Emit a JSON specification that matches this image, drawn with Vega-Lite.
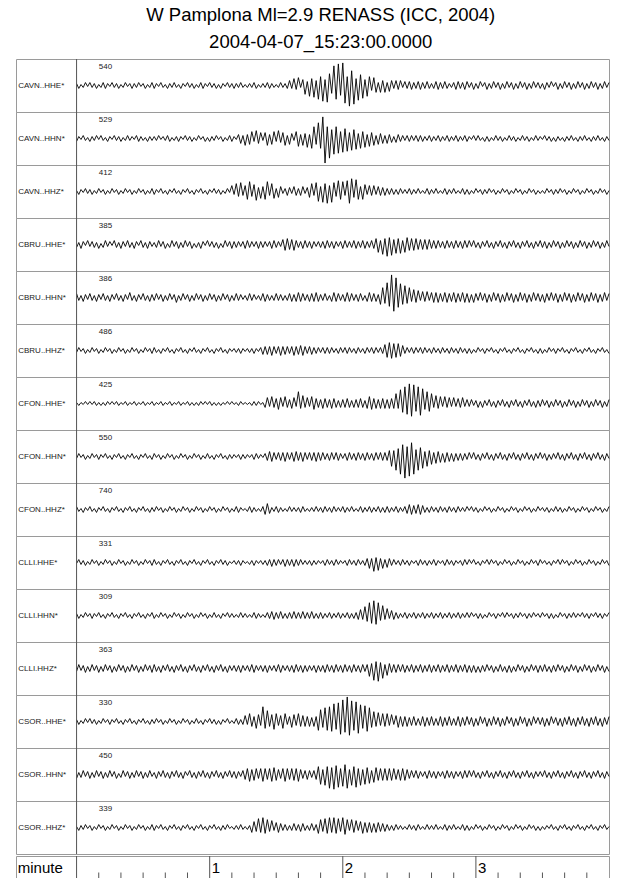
{
"$schema": "https://vega.github.io/schema/vega-lite/v6.json",
"padding": {"left": 15, "top": 5, "right": 0, "bottom": 0},
"background": "white",
"spacing": 0,
"title": {"text": ["W Pamplona Ml=2.9 RENASS (ICC, 2004)", "2004-04-07_15:23:00.0000"], "fontSize": 18.5, "font": "Liberation Sans", "fontWeight": "normal", "lineHeight": 27, "anchor": "middle", "offset": 7, "dx": 8, "color": "black"},
"config": {"view": {"stroke": "#9a9a9a", "strokeWidth": 1}, "concat": {"spacing": 0}},
"datasets": {
"names": [{"a":"CAVN..HHE*","b":"CAVN..HHN*","c":"CAVN..HHZ*","d":"CBRU..HHE*","e":"CBRU..HHN*","f":"CBRU..HHZ*","g":"CFON..HHE*","h":"CFON..HHN*","i":"CFON..HHZ*","j":"CLLI.HHE*","k":"CLLI.HHN*","l":"CLLI.HHZ*","m":"CSOR..HHE*","n":"CSOR..HHN*","o":"CSOR..HHZ*"}],
"nums": [{"a":540,"b":529,"c":412,"d":385,"e":386,"f":486,"g":425,"h":550,"i":740,"j":331,"k":309,"l":363,"m":330,"n":450,"o":339}],
"ticks": [
{"t":10,"m":0},{"t":20,"m":0},{"t":30,"m":0},{"t":40,"m":0},{"t":50,"m":0},{"t":60,"m":1,"lab":"1"},
{"t":70,"m":0},{"t":80,"m":0},{"t":90,"m":0},{"t":100,"m":0},{"t":110,"m":0},{"t":120,"m":1,"lab":"2"},
{"t":130,"m":0},{"t":140,"m":0},{"t":150,"m":0},{"t":160,"m":0},{"t":170,"m":0},{"t":180,"m":1,"lab":"3"},
{"t":190,"m":0},{"t":200,"m":0},{"t":210,"m":0},{"t":220,"m":0},{"t":230,"m":0}
],
"w": [
{"t":0,"a":2,"b":-3,"c":1,"d":-3,"e":4,"f":-2,"g":1,"h":-2,"i":3,"j":-1,"k":2,"l":-3,"m":2,"n":-4,"o":1},
{"t":1,"a":-3,"b":2,"c":-3,"d":2,"e":-3,"f":3,"g":-2,"h":3,"i":-2,"j":3,"k":-3,"l":4,"m":-3,"n":2,"o":-3},
{"t":2,"a":1,"b":-1,"c":2,"d":-4,"e":2,"f":-1,"g":1,"h":-1,"i":1,"j":-2,"k":1,"l":-2,"m":1,"n":-3,"o":2},
{"t":3,"a":-2,"b":3,"c":-1,"d":3,"e":-4,"f":2,"g":-1,"h":2,"i":-3,"j":2,"k":-2,"l":3,"m":-2,"n":4,"o":-2},
{"t":4,"a":3,"b":-2,"c":3,"d":-1,"e":3,"f":-3,"g":2,"h":-3,"i":2,"j":-3,"k":3,"l":-4,"m":3,"n":-2,"o":3},
{"t":5,"a":-1,"b":1,"c":-2,"d":4,"e":-2,"f":1,"g":-1,"h":1,"i":-1,"j":1,"k":-1,"l":2,"m":-1,"n":3,"o":-1},
{"t":6,"a":3,"b":-3,"c":2,"d":-2,"e":4,"f":-2,"g":2,"h":-2,"i":3,"j":-2,"k":2,"l":-3,"m":3,"n":-4,"o":2},
{"t":7,"a":-2,"b":2,"c":-3,"d":3,"e":-3,"f":3,"g":-1,"h":3,"i":-2,"j":3,"k":-3,"l":4,"m":-2,"n":2,"o":-3},
{"t":8,"a":2,"b":-2,"c":1,"d":-3,"e":2,"f":-1,"g":2,"h":-1,"i":1,"j":-1,"k":2,"l":-2,"m":2,"n":-3,"o":1},
{"t":9,"a":-3,"b":3,"c":-2,"d":2,"e":-4,"f":2,"g":-2,"h":2,"i":-3,"j":2,"k":-1,"l":3,"m":-3,"n":4,"o":-2},
{"t":10,"a":1,"b":-1,"c":3,"d":-4,"e":3,"f":-3,"g":1,"h":-3,"i":2,"j":-3,"k":3,"l":-4,"m":1,"n":-2,"o":3},
{"t":11,"a":-2,"b":3,"c":-1,"d":1,"e":-2,"f":1,"g":-2,"h":2,"i":-1,"j":1,"k":-2,"l":2,"m":-2,"n":3,"o":-1},
{"t":12,"a":3,"b":-2,"c":2,"d":-3,"e":4,"f":-2,"g":1,"h":-1,"i":3,"j":-2,"k":1,"l":-3,"m":3,"n":-4,"o":2},
{"t":13,"a":-3,"b":1,"c":-3,"d":4,"e":-3,"f":3,"g":-2,"h":3,"i":-2,"j":3,"k":-3,"l":4,"m":-1,"n":2,"o":-3},
{"t":14,"a":2,"b":-3,"c":1,"d":-2,"e":2,"f":-1,"g":2,"h":-2,"i":1,"j":-1,"k":2,"l":-2,"m":2,"n":-3,"o":1},
{"t":15,"a":-1,"b":2,"c":-2,"d":3,"e":-4,"f":2,"g":-1,"h":1,"i":-3,"j":2,"k":-1,"l":3,"m":-3,"n":4,"o":-2},
{"t":16,"a":3,"b":-1,"c":3,"d":-1,"e":3,"f":-3,"g":2,"h":-3,"i":2,"j":-3,"k":3,"l":-4,"m":2,"n":-2,"o":3},
{"t":17,"a":-2,"b":3,"c":-1,"d":4,"e":-2,"f":1,"g":-1,"h":2,"i":-1,"j":1,"k":-2,"l":2,"m":-1,"n":3,"o":-1},
{"t":18,"a":2,"b":-2,"c":2,"d":-3,"e":4,"f":-2,"g":2,"h":-1,"i":3,"j":-2,"k":1,"l":-3,"m":3,"n":-4,"o":2},
{"t":19,"a":-3,"b":2,"c":-3,"d":2,"e":-3,"f":3,"g":-2,"h":3,"i":-2,"j":3,"k":-3,"l":4,"m":-2,"n":1,"o":-3},
{"t":20,"a":1,"b":-3,"c":1,"d":-4,"e":2,"f":-1,"g":1,"h":-2,"i":1,"j":-1,"k":2,"l":-2,"m":1,"n":-3,"o":1},
{"t":21,"a":-2,"b":1,"c":-2,"d":3,"e":-4,"f":2,"g":-1,"h":1,"i":-3,"j":2,"k":-1,"l":3,"m":-3,"n":4,"o":-2},
{"t":22,"a":3,"b":-2,"c":3,"d":-2,"e":3,"f":-3,"g":2,"h":-3,"i":2,"j":-3,"k":3,"l":-4,"m":2,"n":-2,"o":3},
{"t":23,"a":-1,"b":3,"c":-1,"d":4,"e":-2,"f":1,"g":-2,"h":2,"i":-1,"j":1,"k":-2,"l":2,"m":-1,"n":3,"o":-1},
{"t":24,"a":2,"b":-2,"c":2,"d":-3,"e":5,"f":-2,"g":1,"h":-1,"i":3,"j":-2,"k":1,"l":-3,"m":3,"n":-4,"o":2},
{"t":25,"a":-3,"b":2,"c":-3,"d":2,"e":-3,"f":3,"g":-1,"h":3,"i":-2,"j":3,"k":-3,"l":4,"m":-2,"n":2,"o":-3},
{"t":26,"a":2,"b":-1,"c":1,"d":-4,"e":2,"f":-1,"g":2,"h":-2,"i":1,"j":-1,"k":2,"l":-2,"m":1,"n":-3,"o":1},
{"t":27,"a":-2,"b":3,"c":-2,"d":3,"e":-4,"f":2,"g":-2,"h":1,"i":-3,"j":2,"k":-1,"l":3,"m":-3,"n":4,"o":-2},
{"t":28,"a":3,"b":-3,"c":3,"d":-1,"e":3,"f":-3,"g":1,"h":-3,"i":2,"j":-3,"k":3,"l":-4,"m":2,"n":-2,"o":3},
{"t":29,"a":-1,"b":2,"c":-1,"d":4,"e":-2,"f":1,"g":-1,"h":2,"i":-1,"j":1,"k":-2,"l":2,"m":-1,"n":3,"o":-1},
{"t":30,"a":2,"b":-2,"c":2,"d":-3,"e":4,"f":-2,"g":2,"h":-1,"i":3,"j":-2,"k":1,"l":-3,"m":3,"n":-4,"o":2},
{"t":31,"a":-3,"b":1,"c":-3,"d":2,"e":-3,"f":3,"g":-2,"h":3,"i":-2,"j":3,"k":-3,"l":4,"m":-2,"n":2,"o":-3},
{"t":32,"a":1,"b":-3,"c":1,"d":-4,"e":2,"f":-1,"g":1,"h":-2,"i":1,"j":-1,"k":2,"l":-2,"m":1,"n":-3,"o":1},
{"t":33,"a":-2,"b":2,"c":-2,"d":3,"e":-4,"f":2,"g":-1,"h":1,"i":-3,"j":2,"k":-1,"l":3,"m":-3,"n":4,"o":-2},
{"t":34,"a":3,"b":-2,"c":3,"d":-2,"e":3,"f":-3,"g":2,"h":-3,"i":2,"j":-3,"k":3,"l":-4,"m":2,"n":-2,"o":3},
{"t":35,"a":-3,"b":2,"c":-3,"d":2,"e":-3,"f":3,"g":-2,"h":3,"i":-2,"j":3,"k":-3,"l":4,"m":-2,"n":2,"o":-3},
{"t":36,"a":2,"b":-2,"c":2,"d":-3,"e":4,"f":-2,"g":1,"h":-1,"i":3,"j":-2,"k":1,"l":-3,"m":3,"n":-4,"o":2},
{"t":37,"a":-1,"b":3,"c":-1,"d":4,"e":-2,"f":1,"g":-1,"h":2,"i":-1,"j":1,"k":-2,"l":2,"m":-1,"n":3,"o":-1},
{"t":38,"a":3,"b":-1,"c":3,"d":-2,"e":3,"f":-3,"g":2,"h":-3,"i":2,"j":-3,"k":3,"l":-4,"m":2,"n":-2,"o":3},
{"t":39,"a":-2,"b":2,"c":-2,"d":3,"e":-4,"f":2,"g":-2,"h":1,"i":-3,"j":2,"k":-1,"l":3,"m":-3,"n":4,"o":-2},
{"t":40,"a":1,"b":-2,"c":1,"d":-4,"e":2,"f":-1,"g":1,"h":-2,"i":1,"j":-1,"k":2,"l":-2,"m":1,"n":-3,"o":1},
{"t":41,"a":-3,"b":3,"c":-3,"d":1,"e":-3,"f":3,"g":-1,"h":3,"i":-2,"j":3,"k":-3,"l":4,"m":-2,"n":2,"o":-3},
{"t":42,"a":2,"b":-3,"c":2,"d":-3,"e":4,"f":-2,"g":2,"h":-1,"i":3,"j":-2,"k":1,"l":-3,"m":3,"n":-4,"o":2},
{"t":43,"a":-2,"b":1,"c":-1,"d":4,"e":-2,"f":1,"g":-2,"h":2,"i":-1,"j":1,"k":-2,"l":2,"m":-1,"n":3,"o":-1},
{"t":44,"a":3,"b":-2,"c":3,"d":-2,"e":3,"f":-3,"g":1,"h":-3,"i":2,"j":-3,"k":3,"l":-4,"m":2,"n":-2,"o":3},
{"t":45,"a":-2,"b":2,"c":-2,"d":3,"e":-5,"f":2,"g":-1,"h":1,"i":-3,"j":2,"k":-1,"l":3,"m":-3,"n":4,"o":-2},
{"t":46,"a":1,"b":-3,"c":1,"d":-4,"e":2,"f":-1,"g":2,"h":-2,"i":1,"j":-1,"k":2,"l":-2,"m":1,"n":-3,"o":1},
{"t":47,"a":-3,"b":2,"c":-3,"d":2,"e":-3,"f":3,"g":-2,"h":3,"i":-2,"j":3,"k":-3,"l":4,"m":-2,"n":2,"o":-3},
{"t":48,"a":2,"b":-1,"c":2,"d":-3,"e":4,"f":-2,"g":1,"h":-1,"i":3,"j":-2,"k":1,"l":-3,"m":3,"n":-4,"o":2},
{"t":49,"a":-1,"b":3,"c":-1,"d":4,"e":-2,"f":1,"g":-1,"h":2,"i":-1,"j":1,"k":-2,"l":2,"m":-1,"n":3,"o":-1},
{"t":50,"a":3,"b":-2,"c":3,"d":-2,"e":3,"f":-3,"g":2,"h":-3,"i":2,"j":-3,"k":3,"l":-4,"m":2,"n":-1,"o":3},
{"t":51,"a":-2,"b":2,"c":-2,"d":3,"e":-4,"f":2,"g":-2,"h":1,"i":-3,"j":2,"k":-1,"l":3,"m":-3,"n":4,"o":-2},
{"t":52,"a":2,"b":-3,"c":1,"d":-4,"e":2,"f":-1,"g":1,"h":-2,"i":1,"j":-1,"k":2,"l":-2,"m":1,"n":-3,"o":1},
{"t":53,"a":-3,"b":1,"c":-3,"d":1,"e":-3,"f":3,"g":-2,"h":3,"i":-2,"j":3,"k":-3,"l":4,"m":-2,"n":2,"o":-3},
{"t":54,"a":1,"b":-2,"c":2,"d":-3,"e":4,"f":-2,"g":1,"h":-1,"i":3,"j":-2,"k":1,"l":-3,"m":3,"n":-4,"o":2},
{"t":55,"a":-2,"b":3,"c":-1,"d":2,"e":-2,"f":1,"g":-2,"h":2,"i":-1,"j":1,"k":-2,"l":2,"m":-2,"n":3,"o":-1},
{"t":56,"a":3,"b":-1,"c":3,"d":-4,"e":3,"f":-3,"g":2,"h":-3,"i":2,"j":-3,"k":3,"l":-4,"m":1,"n":-2,"o":3},
{"t":57,"a":-3,"b":2,"c":-2,"d":3,"e":-4,"f":2,"g":-1,"h":1,"i":-3,"j":2,"k":-1,"l":3,"m":-3,"n":4,"o":-2},
{"t":58,"a":2,"b":-3,"c":1,"d":-1,"e":2,"f":-1,"g":2,"h":-2,"i":1,"j":-1,"k":2,"l":-2,"m":2,"n":-3,"o":1},
{"t":59,"a":-1,"b":1,"c":-3,"d":4,"e":-3,"f":3,"g":-1,"h":3,"i":-2,"j":3,"k":-3,"l":4,"m":-1,"n":2,"o":-3},
{"t":60,"a":3,"b":-3,"c":2,"d":-2,"e":4,"f":-2,"g":2,"h":-2,"i":3,"j":-2,"k":1,"l":-3,"m":3,"n":-4,"o":2},
{"t":61,"a":-2,"b":2,"c":-1,"d":3,"e":-2,"f":1,"g":-2,"h":1,"i":-1,"j":1,"k":-2,"l":2,"m":-2,"n":3,"o":-1},
{"t":62,"a":2,"b":-2,"c":3,"d":-3,"e":3,"f":-3,"g":1,"h":-3,"i":2,"j":-3,"k":3,"l":-4,"m":2,"n":-2,"o":3},
{"t":63,"a":-3,"b":3,"c":-2,"d":2,"e":-4,"f":2,"g":-2,"h":2,"i":-3,"j":2,"k":-2,"l":3,"m":-3,"n":4,"o":-2},
{"t":64,"a":1,"b":-1,"c":2,"d":-4,"e":2,"f":-1,"g":1,"h":-1,"i":1,"j":-1,"k":1,"l":-2,"m":1,"n":-3,"o":1},
{"t":65,"a":-3,"b":2,"c":-3,"d":1,"e":-3,"f":3,"g":-2,"h":3,"i":-2,"j":3,"k":-3,"l":4,"m":-3,"n":2,"o":-3},
{"t":66,"a":2,"b":-3,"c":1,"d":-3,"e":4,"f":-2,"g":1,"h":-2,"i":3,"j":-2,"k":2,"l":-3,"m":2,"n":-4,"o":2},
{"t":67,"a":-1,"b":1,"c":-2,"d":4,"e":-2,"f":1,"g":-1,"h":1,"i":-1,"j":2,"k":-1,"l":2,"m":-1,"n":3,"o":-2},
{"t":68,"a":3,"b":-2,"c":3,"d":-2,"e":3,"f":-3,"g":2,"h":-3,"i":2,"j":-3,"k":3,"l":-4,"m":3,"n":-2,"o":3},
{"t":69,"a":-2,"b":3,"c":-1,"d":3,"e":-4,"f":2,"g":-1,"h":2,"i":-3,"j":1,"k":-2,"l":3,"m":-2,"n":4,"o":-1},
{"t":70,"a":2,"b":-3,"c":6,"d":-4,"e":2,"f":-1,"g":2,"h":-2,"i":1,"j":-1,"k":2,"l":-2,"m":1,"n":-3,"o":1},
{"t":71,"a":-3,"b":2,"c":-3,"d":3,"e":-3,"f":2,"g":-1,"h":2,"i":-2,"j":2,"k":-2,"l":3,"m":-2,"n":3,"o":-2},
{"t":72,"a":2,"b":-1,"c":8,"d":-3,"e":4,"f":-2,"g":1,"h":-1,"i":3,"j":-2,"k":1,"l":-3,"m":3,"n":-4,"o":2},
{"t":73,"a":-2,"b":4,"c":-5,"d":3,"e":-3,"f":2,"g":-2,"h":2,"i":-3,"j":2,"k":-2,"l":3,"m":-3,"n":3,"o":-2},
{"t":74,"a":3,"b":-5,"c":9,"d":-2,"e":3,"f":-3,"g":2,"h":-3,"i":2,"j":-3,"k":3,"l":-4,"m":2,"n":-2,"o":3},
{"t":75,"a":-2,"b":3,"c":-4,"d":3,"e":-2,"f":2,"g":-1,"h":2,"i":-1,"j":2,"k":-2,"l":3,"m":-3,"n":4,"o":-2},
{"t":76,"a":1,"b":-7,"c":6,"d":-4,"e":2,"f":-1,"g":1,"h":-2,"i":1,"j":-1,"k":2,"l":-2,"m":6,"n":-5,"o":1},
{"t":77,"a":-2,"b":4,"c":-8,"d":4,"e":-3,"f":2,"g":-1,"h":2,"i":-2,"j":1,"k":-2,"l":3,"m":-3,"n":6,"o":-2},
{"t":78,"a":2,"b":-6,"c":10,"d":-3,"e":4,"f":-2,"g":1,"h":-1,"i":3,"j":-2,"k":1,"l":-3,"m":8,"n":-7,"o":2},
{"t":79,"a":-2,"b":7,"c":-5,"d":3,"e":-3,"f":2,"g":-2,"h":2,"i":-3,"j":2,"k":-2,"l":4,"m":-5,"n":5,"o":-5},
{"t":80,"a":3,"b":-3,"c":7,"d":-2,"e":3,"f":-3,"g":2,"h":-3,"i":2,"j":-3,"k":3,"l":-4,"m":5,"n":-6,"o":6},
{"t":81,"a":-3,"b":8,"c":-9,"d":3,"e":-2,"f":2,"g":-2,"h":3,"i":-2,"j":2,"k":-3,"l":3,"m":-7,"n":6,"o":-4},
{"t":82,"a":1,"b":-5,"c":4,"d":-4,"e":2,"f":-1,"g":2,"h":-2,"i":1,"j":-1,"k":2,"l":-2,"m":7,"n":-4,"o":9},
{"t":83,"a":-2,"b":6,"c":-7,"d":3,"e":-3,"f":3,"g":-1,"h":2,"i":-2,"j":2,"k":-2,"l":3,"m":-4,"n":6,"o":-5},
{"t":84,"a":2,"b":-2,"c":5,"d":-3,"e":4,"f":-4,"g":1,"h":-1,"i":3,"j":-2,"k":1,"l":-3,"m":15,"n":-7,"o":10},
{"t":85,"a":-2,"b":6,"c":-8,"d":3,"e":-4,"f":4,"g":-4,"h":3,"i":-5,"j":2,"k":-2,"l":3,"m":-7,"n":6,"o":-6},
{"t":86,"a":3,"b":-7,"c":10,"d":-2,"e":3,"f":-4,"g":6,"h":-4,"i":6,"j":-3,"k":3,"l":-4,"m":11,"n":-5,"o":8},
{"t":87,"a":-3,"b":4,"c":-4,"d":3,"e":-3,"f":4,"g":-3,"h":5,"i":-4,"j":3,"k":-3,"l":3,"m":-5,"n":6,"o":-4},
{"t":88,"a":2,"b":-6,"c":8,"d":-4,"e":2,"f":-5,"g":7,"h":-5,"i":2,"j":-4,"k":4,"l":-2,"m":7,"n":-7,"o":7},
{"t":89,"a":-2,"b":7,"c":-7,"d":4,"e":-3,"f":4,"g":-4,"h":4,"i":-2,"j":3,"k":-4,"l":3,"m":-8,"n":7,"o":-3},
{"t":90,"a":1,"b":-3,"c":3,"d":-3,"e":4,"f":-3,"g":5,"h":-3,"i":3,"j":-3,"k":3,"l":-3,"m":8,"n":-6,"o":5},
{"t":91,"a":-2,"b":8,"c":-6,"d":3,"e":-3,"f":4,"g":-6,"h":4,"i":-3,"j":3,"k":-3,"l":4,"m":-4,"n":5,"o":-5},
{"t":92,"a":3,"b":-4,"c":5,"d":-2,"e":3,"f":-5,"g":6,"h":-4,"i":2,"j":-2,"k":4,"l":-4,"m":6,"n":-4,"o":4},
{"t":93,"a":-2,"b":6,"c":-2,"d":5,"e":-3,"f":4,"g":-3,"h":4,"i":-2,"j":3,"k":-3,"l":3,"m":-7,"n":6,"o":-3},
{"t":94,"a":2,"b":-7,"c":3,"d":-6,"e":2,"f":-4,"g":7,"h":-5,"i":1,"j":-4,"k":2,"l":-2,"m":8,"n":-7,"o":3},
{"t":95,"a":-3,"b":3,"c":-4,"d":6,"e":-3,"f":4,"g":-4,"h":4,"i":-2,"j":3,"k":-3,"l":3,"m":-3,"n":6,"o":-3},
{"t":96,"a":5,"b":-6,"c":4,"d":-5,"e":4,"f":-3,"g":4,"h":-3,"i":3,"j":-3,"k":3,"l":-3,"m":5,"n":-5,"o":2},
{"t":97,"a":-3,"b":5,"c":-2,"d":5,"e":-4,"f":4,"g":-5,"h":4,"i":-2,"j":3,"k":-3,"l":3,"m":-6,"n":6,"o":-3},
{"t":98,"a":7,"b":-2,"c":5,"d":-6,"e":3,"f":-5,"g":6,"h":-5,"i":2,"j":-4,"k":4,"l":-4,"m":7,"n":-6,"o":4},
{"t":99,"a":-4,"b":7,"c":-4,"d":4,"e":-4,"f":4,"g":-3,"h":5,"i":-2,"j":3,"k":-3,"l":4,"m":-4,"n":6,"o":-3},
{"t":100,"a":8,"b":-8,"c":3,"d":-3,"e":5,"f":-4,"g":12,"h":-4,"i":2,"j":-3,"k":3,"l":-3,"m":8,"n":-7,"o":3},
{"t":101,"a":-2,"b":4,"c":-4,"d":3,"e":-4,"f":5,"g":-5,"h":4,"i":-3,"j":3,"k":-3,"l":3,"m":-5,"n":5,"o":-4},
{"t":102,"a":6,"b":-7,"c":5,"d":-4,"e":4,"f":-5,"g":8,"h":-5,"i":3,"j":-2,"k":4,"l":-4,"m":6,"n":-4,"o":4},
{"t":103,"a":-9,"b":5,"c":-2,"d":4,"e":-3,"f":4,"g":-4,"h":4,"i":-2,"j":2,"k":-3,"l":3,"m":-5,"n":4,"o":-3},
{"t":104,"a":4,"b":-9,"c":4,"d":-3,"e":3,"f":-3,"g":6,"h":-3,"i":1,"j":-2,"k":3,"l":-3,"m":5,"n":-5,"o":2},
{"t":105,"a":-11,"b":4,"c":-6,"d":3,"e":-4,"f":4,"g":-3,"h":4,"i":-2,"j":2,"k":-3,"l":3,"m":-5,"n":4,"o":-3},
{"t":106,"a":7,"b":-10,"c":8,"d":-4,"e":4,"f":-4,"g":7,"h":-4,"i":2,"j":-3,"k":4,"l":-2,"m":4,"n":-3,"o":4},
{"t":107,"a":-12,"b":12,"c":-4,"d":3,"e":-4,"f":3,"g":-6,"h":4,"i":-2,"j":2,"k":-3,"l":3,"m":-5,"n":4,"o":-3},
{"t":108,"a":5,"b":-6,"c":9,"d":-2,"e":5,"f":-3,"g":5,"h":-5,"i":3,"j":-2,"k":2,"l":-4,"m":5,"n":-5,"o":3},
{"t":109,"a":-14,"b":16,"c":-10,"d":3,"e":-4,"f":3,"g":-4,"h":4,"i":-2,"j":2,"k":-3,"l":3,"m":-9,"n":8,"o":-6},
{"t":110,"a":9,"b":-10,"c":5,"d":-3,"e":3,"f":-2,"g":4,"h":-4,"i":2,"j":-1,"k":3,"l":-3,"m":12,"n":-10,"o":8},
{"t":111,"a":-16,"b":22,"c":-11,"d":3,"e":-3,"f":3,"g":-5,"h":4,"i":-3,"j":2,"k":-3,"l":3,"m":-6,"n":5,"o":-4},
{"t":112,"a":6,"b":-25,"c":8,"d":-4,"e":4,"f":-3,"g":5,"h":-3,"i":3,"j":-3,"k":2,"l":-4,"m":14,"n":-11,"o":9},
{"t":113,"a":-17,"b":12,"c":-12,"d":4,"e":-3,"f":3,"g":-4,"h":3,"i":-2,"j":3,"k":-2,"l":4,"m":-9,"n":8,"o":-6},
{"t":114,"a":12,"b":-20,"c":6,"d":-3,"e":2,"f":-3,"g":4,"h":-4,"i":2,"j":-2,"k":3,"l":-3,"m":15,"n":-14,"o":10},
{"t":115,"a":-8,"b":9,"c":-11,"d":3,"e":-4,"f":3,"g":-5,"h":4,"i":-3,"j":2,"k":-3,"l":3,"m":-10,"n":7,"o":-5},
{"t":116,"a":20,"b":-16,"c":9,"d":-4,"e":5,"f":-2,"g":5,"h":-3,"i":3,"j":-3,"k":2,"l":-4,"m":18,"n":-15,"o":10},
{"t":117,"a":-14,"b":12,"c":-5,"d":3,"e":-4,"f":2,"g":-4,"h":4,"i":-2,"j":3,"k":-2,"l":4,"m":-8,"n":9,"o":-6},
{"t":118,"a":22,"b":-15,"c":11,"d":-2,"e":4,"f":-3,"g":3,"h":-4,"i":2,"j":-2,"k":3,"l":-3,"m":19,"n":-13,"o":9},
{"t":119,"a":-10,"b":7,"c":-8,"d":3,"e":-3,"f":3,"g":-4,"h":3,"i":-2,"j":2,"k":-3,"l":3,"m":-13,"n":6,"o":-4},
{"t":120,"a":23,"b":-14,"c":10,"d":-4,"e":3,"f":-2,"g":4,"h":-2,"i":3,"j":-1,"k":2,"l":-4,"m":22,"n":-12,"o":10},
{"t":121,"a":-18,"b":10,"c":-4,"d":4,"e":-4,"f":3,"g":-4,"h":3,"i":-3,"j":2,"k":-2,"l":4,"m":-11,"n":10,"o":-7},
{"t":122,"a":9,"b":-13,"c":11,"d":-3,"e":5,"f":-3,"g":5,"h":-4,"i":2,"j":-3,"k":3,"l":-3,"m":25,"n":-14,"o":8},
{"t":123,"a":-21,"b":6,"c":-12,"d":3,"e":-4,"f":3,"g":-4,"h":4,"i":-2,"j":3,"k":-3,"l":3,"m":-14,"n":5,"o":-3},
{"t":124,"a":15,"b":-12,"c":13,"d":-3,"e":4,"f":-2,"g":3,"h":-3,"i":3,"j":-2,"k":2,"l":-4,"m":21,"n":-11,"o":8},
{"t":125,"a":-19,"b":9,"c":-6,"d":4,"e":-3,"f":2,"g":-4,"h":3,"i":-2,"j":2,"k":-3,"l":4,"m":-9,"n":8,"o":-5},
{"t":126,"a":7,"b":-11,"c":12,"d":-4,"e":3,"f":-3,"g":4,"h":-4,"i":1,"j":-3,"k":3,"l":-3,"m":20,"n":-13,"o":7},
{"t":127,"a":-15,"b":5,"c":-8,"d":3,"e":-4,"f":3,"g":-4,"h":4,"i":-2,"j":3,"k":-4,"l":3,"m":-12,"n":6,"o":-3},
{"t":128,"a":11,"b":-10,"c":5,"d":-3,"e":4,"f":-2,"g":5,"h":-3,"i":3,"j":-2,"k":6,"l":-4,"m":17,"n":-11,"o":6},
{"t":129,"a":-13,"b":7,"c":-8,"d":4,"e":-3,"f":2,"g":-4,"h":3,"i":-3,"j":2,"k":-4,"l":4,"m":-7,"n":5,"o":-6},
{"t":130,"a":6,"b":-9,"c":7,"d":-4,"e":2,"f":-3,"g":3,"h":-4,"i":2,"j":-3,"k":9,"l":-3,"m":16,"n":-10,"o":5},
{"t":131,"a":-11,"b":4,"c":-3,"d":3,"e":-4,"f":3,"g":-5,"h":4,"i":-2,"j":4,"k":-6,"l":4,"m":-10,"n":7,"o":-5},
{"t":132,"a":9,"b":-8,"c":6,"d":-3,"e":5,"f":-2,"g":7,"h":-3,"i":3,"j":-6,"k":13,"l":-8,"m":14,"n":-9,"o":5},
{"t":133,"a":-5,"b":6,"c":-4,"d":4,"e":-4,"f":3,"g":-6,"h":3,"i":-3,"j":4,"k":-8,"l":5,"m":-6,"n":4,"o":-5},
{"t":134,"a":8,"b":-7,"c":6,"d":-4,"e":4,"f":-3,"g":5,"h":-4,"i":2,"j":-9,"k":15,"l":-12,"m":10,"n":-8,"o":4},
{"t":135,"a":-7,"b":3,"c":-3,"d":6,"e":-4,"f":3,"g":-5,"h":4,"i":-2,"j":5,"k":-9,"l":7,"m":-5,"n":7,"o":-5},
{"t":136,"a":3,"b":-6,"c":5,"d":-8,"e":3,"f":-2,"g":4,"h":-3,"i":3,"j":-8,"k":13,"l":-13,"m":9,"n":-6,"o":5},
{"t":137,"a":-7,"b":5,"c":-4,"d":4,"e":-7,"f":3,"g":-5,"h":4,"i":-3,"j":4,"k":-5,"l":6,"m":-4,"n":6,"o":-4},
{"t":138,"a":5,"b":-5,"c":4,"d":-10,"e":10,"f":-3,"g":5,"h":-4,"i":2,"j":-6,"k":10,"l":-10,"m":8,"n":-6,"o":4},
{"t":139,"a":-7,"b":3,"c":-4,"d":6,"e":-6,"f":6,"g":-5,"h":4,"i":-3,"j":3,"k":-4,"l":4,"m":-5,"n":6,"o":-4},
{"t":140,"a":3,"b":-5,"c":3,"d":-12,"e":15,"f":-7,"g":4,"h":-4,"i":3,"j":-5,"k":7,"l":-7,"m":8,"n":-6,"o":3},
{"t":141,"a":-6,"b":4,"c":-3,"d":7,"e":-9,"f":8,"g":-5,"h":6,"i":-3,"j":4,"k":-3,"l":5,"m":-4,"n":6,"o":-3},
{"t":142,"a":5,"b":-4,"c":3,"d":-11,"e":23,"f":-8,"g":5,"h":-10,"i":2,"j":-3,"k":5,"l":-4,"m":7,"n":-6,"o":2},
{"t":143,"a":-3,"b":2,"c":-3,"d":5,"e":-14,"f":7,"g":-5,"h":6,"i":-2,"j":3,"k":-4,"l":4,"m":-3,"n":6,"o":-3},
{"t":144,"a":5,"b":-4,"c":2,"d":-9,"e":20,"f":-7,"g":10,"h":-14,"i":3,"j":-2,"k":3,"l":-4,"m":6,"n":-5,"o":3},
{"t":145,"a":-4,"b":4,"c":-3,"d":6,"e":-10,"f":7,"g":-5,"h":8,"i":-3,"j":2,"k":-3,"l":4,"m":-6,"n":5,"o":-2},
{"t":146,"a":5,"b":-3,"c":3,"d":-9,"e":14,"f":-6,"g":14,"h":-18,"i":2,"j":-3,"k":2,"l":-3,"m":5,"n":-6,"o":2},
{"t":147,"a":-2,"b":3,"c":-2,"d":4,"e":-7,"f":5,"g":-9,"h":12,"i":-2,"j":3,"k":-2,"l":4,"m":-5,"n":6,"o":-2},
{"t":148,"a":4,"b":-2,"c":2,"d":-8,"e":12,"f":-3,"g":17,"h":-22,"i":3,"j":-2,"k":3,"l":-4,"m":5,"n":-6,"o":1},
{"t":149,"a":-3,"b":3,"c":-2,"d":7,"e":-6,"f":3,"g":-11,"h":10,"i":-4,"j":2,"k":-3,"l":3,"m":-5,"n":5,"o":-2},
{"t":150,"a":4,"b":-3,"c":3,"d":-6,"e":10,"f":-2,"g":20,"h":-20,"i":5,"j":-3,"k":2,"l":-3,"m":4,"n":-4,"o":3},
{"t":151,"a":-4,"b":3,"c":-3,"d":6,"e":-4,"f":3,"g":-13,"h":14,"i":-5,"j":2,"k":-2,"l":4,"m":-4,"n":4,"o":-2},
{"t":152,"a":3,"b":-2,"c":2,"d":-6,"e":8,"f":-3,"g":19,"h":-18,"i":4,"j":-1,"k":3,"l":-4,"m":5,"n":-3,"o":2},
{"t":153,"a":-3,"b":3,"c":-2,"d":6,"e":-5,"f":3,"g":-8,"h":7,"i":-4,"j":2,"k":-3,"l":3,"m":-4,"n":4,"o":-3},
{"t":154,"a":4,"b":-3,"c":3,"d":-5,"e":7,"f":-2,"g":17,"h":-14,"i":5,"j":-3,"k":2,"l":-3,"m":3,"n":-4,"o":3},
{"t":155,"a":-4,"b":3,"c":-2,"d":5,"e":-3,"f":3,"g":-12,"h":9,"i":-5,"j":3,"k":-2,"l":4,"m":-4,"n":3,"o":-2},
{"t":156,"a":3,"b":-3,"c":1,"d":-5,"e":6,"f":-3,"g":15,"h":-12,"i":4,"j":-2,"k":3,"l":-4,"m":5,"n":-2,"o":1},
{"t":157,"a":-3,"b":2,"c":-2,"d":5,"e":-4,"f":3,"g":-6,"h":5,"i":-3,"j":2,"k":-3,"l":3,"m":-5,"n":3,"o":-2},
{"t":158,"a":4,"b":-2,"c":3,"d":-5,"e":6,"f":-2,"g":12,"h":-10,"i":2,"j":-3,"k":2,"l":-3,"m":4,"n":-4,"o":3},
{"t":159,"a":-3,"b":3,"c":-3,"d":5,"e":-3,"f":2,"g":-8,"h":6,"i":-3,"j":2,"k":-2,"l":4,"m":-4,"n":4,"o":-2},
{"t":160,"a":2,"b":-3,"c":2,"d":-4,"e":5,"f":-3,"g":10,"h":-8,"i":3,"j":-2,"k":3,"l":-4,"m":5,"n":-3,"o":2},
{"t":161,"a":-3,"b":2,"c":-2,"d":4,"e":-5,"f":3,"g":-4,"h":4,"i":-2,"j":3,"k":-3,"l":3,"m":-4,"n":3,"o":-2},
{"t":162,"a":4,"b":-2,"c":3,"d":-4,"e":5,"f":-2,"g":8,"h":-7,"i":2,"j":-3,"k":2,"l":-3,"m":3,"n":-4,"o":3},
{"t":163,"a":-4,"b":3,"c":-2,"d":4,"e":-5,"f":2,"g":-5,"h":5,"i":-3,"j":2,"k":-2,"l":4,"m":-4,"n":3,"o":-2},
{"t":164,"a":3,"b":-3,"c":1,"d":-3,"e":4,"f":-3,"g":7,"h":-6,"i":3,"j":-1,"k":3,"l":-4,"m":5,"n":-2,"o":1},
{"t":165,"a":-3,"b":2,"c":-2,"d":3,"e":-4,"f":3,"g":-3,"h":3,"i":-2,"j":2,"k":-3,"l":3,"m":-5,"n":3,"o":-2},
{"t":166,"a":4,"b":-2,"c":3,"d":-4,"e":5,"f":-2,"g":7,"h":-6,"i":2,"j":-3,"k":2,"l":-3,"m":4,"n":-4,"o":3},
{"t":167,"a":-3,"b":3,"c":-3,"d":4,"e":-5,"f":2,"g":-4,"h":4,"i":-3,"j":3,"k":-2,"l":4,"m":-4,"n":4,"o":-3},
{"t":168,"a":2,"b":-3,"c":2,"d":-3,"e":4,"f":-3,"g":6,"h":-5,"i":3,"j":-2,"k":3,"l":-4,"m":5,"n":-3,"o":2},
{"t":169,"a":-2,"b":2,"c":-2,"d":3,"e":-4,"f":3,"g":-3,"h":3,"i":-2,"j":2,"k":-3,"l":3,"m":-4,"n":3,"o":-2},
{"t":170,"a":3,"b":-2,"c":3,"d":-4,"e":5,"f":-2,"g":6,"h":-5,"i":2,"j":-3,"k":2,"l":-3,"m":3,"n":-4,"o":3},
{"t":171,"a":-4,"b":3,"c":-2,"d":4,"e":-5,"f":2,"g":-3,"h":3,"i":-3,"j":2,"k":-2,"l":4,"m":-4,"n":3,"o":-2},
{"t":172,"a":4,"b":-3,"c":1,"d":-3,"e":4,"f":-3,"g":5,"h":-4,"i":3,"j":-1,"k":3,"l":-4,"m":5,"n":-2,"o":1},
{"t":173,"a":-3,"b":2,"c":-2,"d":3,"e":-4,"f":3,"g":-4,"h":3,"i":-2,"j":2,"k":-3,"l":3,"m":-5,"n":3,"o":-2},
{"t":174,"a":3,"b":-2,"c":3,"d":-4,"e":5,"f":-2,"g":6,"h":-4,"i":2,"j":-3,"k":2,"l":-3,"m":4,"n":-4,"o":3},
{"t":175,"a":-4,"b":3,"c":-3,"d":4,"e":-5,"f":2,"g":-3,"h":3,"i":-2,"j":3,"k":-2,"l":4,"m":-4,"n":4,"o":-3},
{"t":176,"a":4,"b":-3,"c":2,"d":-3,"e":4,"f":-3,"g":4,"h":-3,"i":3,"j":-2,"k":3,"l":-4,"m":5,"n":-3,"o":2},
{"t":177,"a":-2,"b":2,"c":-3,"d":4,"e":-5,"f":2,"g":-3,"h":4,"i":-1,"j":3,"k":-2,"l":3,"m":-3,"n":4,"o":-3},
{"t":178,"a":3,"b":-1,"c":1,"d":-2,"e":3,"f":-3,"g":4,"h":-2,"i":3,"j":-1,"k":3,"l":-4,"m":4,"n":-2,"o":1},
{"t":179,"a":-4,"b":3,"c":-2,"d":4,"e":-5,"f":1,"g":-2,"h":4,"i":-2,"j":3,"k":-1,"l":3,"m":-5,"n":4,"o":-2},
{"t":180,"a":2,"b":-2,"c":3,"d":-3,"e":4,"f":-2,"g":3,"h":-3,"i":2,"j":-2,"k":2,"l":-4,"m":3,"n":-3,"o":3},
{"t":181,"a":-3,"b":3,"c":-1,"d":2,"e":-3,"f":3,"g":-4,"h":2,"i":-3,"j":1,"k":-3,"l":2,"m":-4,"n":2,"o":-1},
{"t":182,"a":4,"b":-2,"c":2,"d":-4,"e":5,"f":-1,"g":2,"h":-4,"i":1,"j":-3,"k":2,"l":-4,"m":5,"n":-4,"o":2},
{"t":183,"a":-1,"b":1,"c":-3,"d":3,"e":-3,"f":2,"g":-4,"h":3,"i":-2,"j":2,"k":-3,"l":3,"m":-2,"n":3,"o":-3},
{"t":184,"a":3,"b":-3,"c":2,"d":-2,"e":4,"f":-3,"g":3,"h":-2,"i":3,"j":-1,"k":1,"l":-3,"m":4,"n":-2,"o":1},
{"t":185,"a":-4,"b":2,"c":-2,"d":4,"e":-5,"f":2,"g":-2,"h":4,"i":-1,"j":3,"k":-2,"l":4,"m":-5,"n":4,"o":-2},
{"t":186,"a":2,"b":-3,"c":3,"d":-3,"e":3,"f":-1,"g":4,"h":-3,"i":2,"j":-2,"k":3,"l":-2,"m":3,"n":-3,"o":3},
{"t":187,"a":-3,"b":1,"c":-1,"d":2,"e":-4,"f":3,"g":-3,"h":2,"i":-3,"j":3,"k":-1,"l":3,"m":-4,"n":2,"o":-1},
{"t":188,"a":4,"b":-2,"c":2,"d":-4,"e":5,"f":-2,"g":2,"h":-4,"i":1,"j":-1,"k":2,"l":-4,"m":5,"n":-4,"o":2},
{"t":189,"a":-2,"b":3,"c":-3,"d":3,"e":-3,"f":1,"g":-4,"h":3,"i":-2,"j":2,"k":-3,"l":2,"m":-3,"n":3,"o":-3},
{"t":190,"a":3,"b":-2,"c":1,"d":-2,"e":4,"f":-3,"g":3,"h":-2,"i":3,"j":-3,"k":2,"l":-3,"m":4,"n":-2,"o":1},
{"t":191,"a":-4,"b":2,"c":-2,"d":4,"e":-5,"f":2,"g":-2,"h":4,"i":-1,"j":1,"k":-1,"l":4,"m":-5,"n":4,"o":-2},
{"t":192,"a":2,"b":-3,"c":3,"d":-3,"e":3,"f":-1,"g":4,"h":-3,"i":2,"j":-2,"k":3,"l":-3,"m":3,"n":-3,"o":3},
{"t":193,"a":-3,"b":1,"c":-1,"d":2,"e":-4,"f":3,"g":-3,"h":2,"i":-3,"j":3,"k":-2,"l":2,"m":-4,"n":2,"o":-1},
{"t":194,"a":4,"b":-2,"c":2,"d":-4,"e":5,"f":-2,"g":2,"h":-4,"i":1,"j":-1,"k":3,"l":-4,"m":5,"n":-4,"o":2},
{"t":195,"a":-2,"b":3,"c":-3,"d":3,"e":-3,"f":1,"g":-4,"h":3,"i":-2,"j":2,"k":-1,"l":3,"m":-2,"n":3,"o":-3},
{"t":196,"a":3,"b":-2,"c":1,"d":-2,"e":4,"f":-3,"g":3,"h":-2,"i":3,"j":-3,"k":2,"l":-4,"m":4,"n":-2,"o":1},
{"t":197,"a":-4,"b":2,"c":-2,"d":4,"e":-5,"f":2,"g":-2,"h":4,"i":-1,"j":1,"k":-3,"l":2,"m":-5,"n":4,"o":-2},
{"t":198,"a":2,"b":-3,"c":3,"d":-3,"e":3,"f":-1,"g":4,"h":-3,"i":2,"j":-2,"k":2,"l":-3,"m":3,"n":-3,"o":3},
{"t":199,"a":-3,"b":1,"c":-1,"d":2,"e":-4,"f":3,"g":-3,"h":2,"i":-3,"j":3,"k":-2,"l":4,"m":-4,"n":2,"o":-1},
{"t":200,"a":4,"b":-2,"c":2,"d":-4,"e":5,"f":-2,"g":2,"h":-4,"i":1,"j":-1,"k":3,"l":-2,"m":5,"n":-4,"o":2},
{"t":201,"a":-2,"b":3,"c":-3,"d":3,"e":-3,"f":1,"g":-4,"h":3,"i":-2,"j":2,"k":-1,"l":3,"m":-2,"n":3,"o":-3},
{"t":202,"a":3,"b":-2,"c":1,"d":-2,"e":4,"f":-3,"g":3,"h":-2,"i":3,"j":-3,"k":2,"l":-4,"m":4,"n":-2,"o":1},
{"t":203,"a":-4,"b":2,"c":-2,"d":4,"e":-5,"f":2,"g":-2,"h":4,"i":-1,"j":1,"k":-3,"l":2,"m":-5,"n":4,"o":-2},
{"t":204,"a":2,"b":-3,"c":3,"d":-3,"e":3,"f":-1,"g":4,"h":-3,"i":2,"j":-2,"k":2,"l":-3,"m":3,"n":-3,"o":3},
{"t":205,"a":-3,"b":1,"c":-1,"d":2,"e":-4,"f":3,"g":-3,"h":2,"i":-3,"j":3,"k":-2,"l":4,"m":-4,"n":2,"o":-1},
{"t":206,"a":4,"b":-2,"c":2,"d":-4,"e":5,"f":-2,"g":2,"h":-4,"i":1,"j":-1,"k":3,"l":-2,"m":5,"n":-4,"o":2},
{"t":207,"a":-2,"b":3,"c":-3,"d":3,"e":-3,"f":1,"g":-4,"h":3,"i":-2,"j":2,"k":-1,"l":3,"m":-2,"n":3,"o":-3},
{"t":208,"a":3,"b":-2,"c":1,"d":-2,"e":4,"f":-3,"g":3,"h":-2,"i":3,"j":-3,"k":2,"l":-4,"m":4,"n":-2,"o":1},
{"t":209,"a":-3,"b":2,"c":-2,"d":4,"e":-4,"f":2,"g":-3,"h":4,"i":-1,"j":3,"k":-2,"l":3,"m":-3,"n":3,"o":-3},
{"t":210,"a":2,"b":-1,"c":1,"d":-3,"e":3,"f":-3,"g":4,"h":-2,"i":2,"j":-1,"k":3,"l":-3,"m":4,"n":-2,"o":1},
{"t":211,"a":-4,"b":3,"c":-2,"d":3,"e":-5,"f":1,"g":-2,"h":3,"i":-2,"j":2,"k":-1,"l":4,"m":-5,"n":4,"o":-2},
{"t":212,"a":3,"b":-2,"c":3,"d":-4,"e":4,"f":-2,"g":3,"h":-4,"i":2,"j":-2,"k":2,"l":-3,"m":3,"n":-3,"o":2},
{"t":213,"a":-2,"b":2,"c":-1,"d":2,"e":-3,"f":3,"g":-4,"h":2,"i":-3,"j":1,"k":-3,"l":2,"m":-4,"n":2,"o":-1},
{"t":214,"a":4,"b":-3,"c":2,"d":-3,"e":5,"f":-1,"g":2,"h":-3,"i":1,"j":-3,"k":2,"l":-4,"m":5,"n":-4,"o":3},
{"t":215,"a":-1,"b":1,"c":-3,"d":4,"e":-3,"f":2,"g":-3,"h":3,"i":-2,"j":2,"k":-3,"l":3,"m":-2,"n":3,"o":-2},
{"t":216,"a":3,"b":-3,"c":2,"d":-2,"e":4,"f":-3,"g":4,"h":-2,"i":3,"j":-1,"k":1,"l":-3,"m":4,"n":-2,"o":1},
{"t":217,"a":-4,"b":2,"c":-2,"d":3,"e":-5,"f":2,"g":-2,"h":4,"i":-2,"j":3,"k":-2,"l":4,"m":-4,"n":4,"o":-3},
{"t":218,"a":2,"b":-2,"c":3,"d":-4,"e":3,"f":-1,"g":3,"h":-3,"i":2,"j":-2,"k":3,"l":-2,"m":3,"n":-3,"o":2},
{"t":219,"a":-3,"b":1,"c":-1,"d":2,"e":-4,"f":3,"g":-4,"h":2,"i":-3,"j":3,"k":-1,"l":3,"m":-5,"n":2,"o":-1},
{"t":220,"a":4,"b":-3,"c":2,"d":-3,"e":5,"f":-2,"g":2,"h":-4,"i":1,"j":-1,"k":2,"l":-4,"m":4,"n":-4,"o":3},
{"t":221,"a":-2,"b":2,"c":-3,"d":4,"e":-3,"f":1,"g":-3,"h":3,"i":-2,"j":2,"k":-3,"l":2,"m":-3,"n":3,"o":-2},
{"t":222,"a":3,"b":-2,"c":1,"d":-2,"e":4,"f":-3,"g":4,"h":-2,"i":3,"j":-3,"k":2,"l":-3,"m":5,"n":-2,"o":1},
{"t":223,"a":-4,"b":3,"c":-2,"d":3,"e":-5,"f":2,"g":-2,"h":4,"i":-1,"j":1,"k":-2,"l":4,"m":-4,"n":4,"o":-3},
{"t":224,"a":2,"b":-2,"c":3,"d":-4,"e":3,"f":-1,"g":3,"h":-3,"i":2,"j":-2,"k":3,"l":-2,"m":3,"n":-3,"o":2},
{"t":225,"a":-3,"b":1,"c":-1,"d":2,"e":-4,"f":3,"g":-4,"h":2,"i":-3,"j":3,"k":-2,"l":3,"m":-5,"n":2,"o":-1},
{"t":226,"a":4,"b":-3,"c":2,"d":-3,"e":5,"f":-2,"g":2,"h":-4,"i":1,"j":-1,"k":2,"l":-4,"m":4,"n":-4,"o":3},
{"t":227,"a":-2,"b":2,"c":-3,"d":4,"e":-3,"f":1,"g":-3,"h":3,"i":-2,"j":2,"k":-1,"l":2,"m":-3,"n":3,"o":-2},
{"t":228,"a":3,"b":-2,"c":1,"d":-2,"e":4,"f":-3,"g":4,"h":-2,"i":3,"j":-3,"k":3,"l":-3,"m":5,"n":-2,"o":1},
{"t":229,"a":-4,"b":3,"c":-2,"d":3,"e":-5,"f":2,"g":-2,"h":4,"i":-1,"j":1,"k":-2,"l":4,"m":-4,"n":4,"o":-3},
{"t":230,"a":2,"b":-2,"c":3,"d":-4,"e":3,"f":-1,"g":3,"h":-3,"i":2,"j":-2,"k":2,"l":-2,"m":3,"n":-3,"o":2},
{"t":231,"a":-3,"b":1,"c":-1,"d":2,"e":-4,"f":3,"g":-4,"h":2,"i":-3,"j":3,"k":-3,"l":3,"m":-5,"n":2,"o":-1},
{"t":232,"a":4,"b":-3,"c":2,"d":-3,"e":5,"f":-2,"g":2,"h":-4,"i":1,"j":-1,"k":2,"l":-4,"m":4,"n":-4,"o":3},
{"t":233,"a":-2,"b":2,"c":-3,"d":4,"e":-3,"f":1,"g":-3,"h":3,"i":-2,"j":2,"k":-1,"l":2,"m":-3,"n":3,"o":-2},
{"t":234,"a":3,"b":-2,"c":1,"d":-2,"e":4,"f":-3,"g":4,"h":-2,"i":3,"j":-3,"k":3,"l":-3,"m":5,"n":-2,"o":1},
{"t":235,"a":-4,"b":3,"c":-2,"d":3,"e":-5,"f":2,"g":-2,"h":4,"i":-1,"j":1,"k":-2,"l":4,"m":-4,"n":4,"o":-3},
{"t":236,"a":2,"b":-2,"c":3,"d":-4,"e":3,"f":-1,"g":3,"h":-3,"i":2,"j":-2,"k":2,"l":-2,"m":3,"n":-3,"o":2},
{"t":237,"a":-3,"b":1,"c":-1,"d":2,"e":-4,"f":3,"g":-4,"h":2,"i":-3,"j":3,"k":-3,"l":3,"m":-5,"n":2,"o":-1},
{"t":238,"a":4,"b":-3,"c":2,"d":-3,"e":5,"f":-2,"g":2,"h":-4,"i":1,"j":-1,"k":2,"l":-4,"m":4,"n":-4,"o":3},
{"t":239,"a":-2,"b":2,"c":-3,"d":4,"e":-3,"f":1,"g":-3,"h":3,"i":-2,"j":2,"k":-1,"l":2,"m":-3,"n":3,"o":-2},
{"t":240,"a":3,"b":-2,"c":1,"d":-2,"e":4,"f":-3,"g":4,"h":-2,"i":3,"j":-3,"k":3,"l":-3,"m":5,"n":-2,"o":1}
]
},
"vconcat": [
{
"repeat": {"row": ["a","b","c","d","e","f","g","h","i","j","k","l","m","n","o"]},
"spacing": 0,
"bounds": "flush",
"spec": {
"width": 593,
"height": 53,
"layer": [
{"data": {"name": "w"},
 "mark": {"type": "line", "color": "black", "strokeWidth": 0.9, "strokeJoin": "bevel"},
 "encoding": {
  "x": {"field": "t", "type": "quantitative", "scale": {"domain": [-27.3, 240], "nice": false, "zero": false}, "axis": null},
  "y": {"field": {"repeat": "row"}, "type": "quantitative", "scale": {"domain": [-27, 27], "nice": false, "zero": false}, "axis": null}}},
{"data": {"name": "names"},
 "mark": {"type": "text", "align": "left", "baseline": "middle", "fontSize": 8, "font": "Liberation Sans", "color": "#222222"},
 "encoding": {"x": {"datum": -26.3, "type": "quantitative", "axis": null}, "y": {"datum": 0, "type": "quantitative", "axis": null}, "text": {"field": {"repeat": "row"}}}},
{"data": {"name": "nums"},
 "mark": {"type": "text", "align": "left", "baseline": "middle", "fontSize": 8, "font": "Liberation Sans", "color": "#222222"},
 "encoding": {"x": {"datum": 10, "type": "quantitative", "axis": null}, "y": {"datum": 18.5, "type": "quantitative", "axis": null}, "text": {"field": {"repeat": "row"}}}},
{"data": {"name": "nums"},
 "mark": {"type": "rule", "color": "#555555", "strokeWidth": 1},
 "encoding": {"x": {"datum": 0, "type": "quantitative", "axis": null}}}
]
}
},
{
"width": 593,
"height": 22,
"data": {"name": "ticks"},
"layer": [
{"transform": [{"filter": "datum.m == 0"}],
 "mark": {"type": "rule", "color": "#555555", "strokeWidth": 1},
 "encoding": {
  "x": {"field": "t", "type": "quantitative", "scale": {"domain": [-27.3, 240], "nice": false, "zero": false}, "axis": null},
  "y": {"datum": 0, "type": "quantitative", "scale": {"domain": [0, 1], "nice": false}, "axis": null},
  "y2": {"datum": 0.25}}},
{"transform": [{"filter": "datum.m == 1"}],
 "mark": {"type": "rule", "color": "#555555", "strokeWidth": 1},
 "encoding": {
  "x": {"field": "t", "type": "quantitative", "axis": null},
  "y": {"datum": 0, "type": "quantitative", "axis": null},
  "y2": {"datum": 1}}},
{"transform": [{"filter": "datum.m == 1"}],
 "mark": {"type": "text", "align": "left", "baseline": "middle", "dx": 2, "fontSize": 15, "font": "Liberation Sans", "color": "black"},
 "encoding": {
  "x": {"field": "t", "type": "quantitative", "axis": null},
  "y": {"datum": 0.45, "type": "quantitative", "axis": null},
  "text": {"field": "lab"}}},
{"data": {"values": [{"lab": "minute"}]},
 "mark": {"type": "text", "align": "left", "baseline": "middle", "fontSize": 15, "font": "Liberation Sans", "color": "black"},
 "encoding": {
  "x": {"datum": -26.5, "type": "quantitative", "axis": null},
  "y": {"datum": 0.45, "type": "quantitative", "axis": null},
  "text": {"field": "lab"}}},
{"data": {"values": [{"lab": "minute"}]},
 "mark": {"type": "rule", "color": "#555555", "strokeWidth": 1},
 "encoding": {"x": {"datum": 0, "type": "quantitative", "axis": null}}}
]
}
]
}
